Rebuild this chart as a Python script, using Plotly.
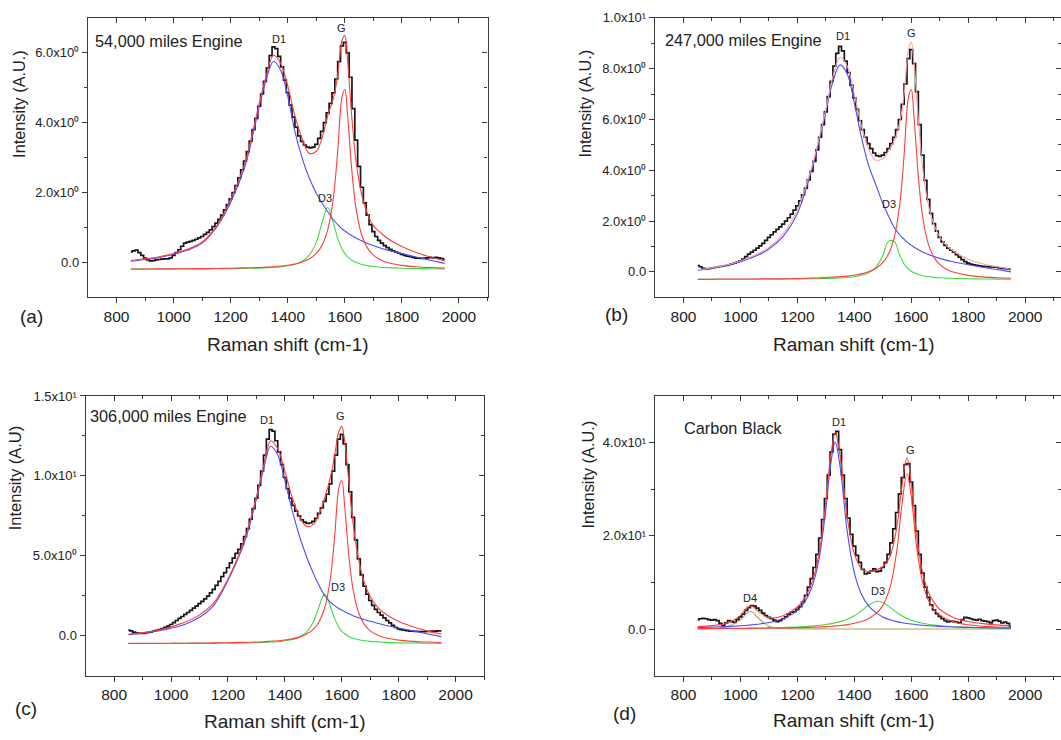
import plotly.graph_objects as go

W, H = 1061, 740
FONT = "Liberation Sans, Arial, Helvetica, sans-serif"
INK = "#222222"
AXIS = "#3a3a3a"

# ---------------- data ----------------
# measured spectra, sampled every 10 cm-1 from 850 to 1950
RAW_X = list(range(850, 1951, 10))

raw_a = [0.30, 0.33, 0.35, 0.28, 0.20, 0.12, 0.07, 0.04, 0.05, 0.07,
         0.08, 0.09, 0.10, 0.10, 0.13, 0.20, 0.28, 0.36, 0.46, 0.55,
         0.58, 0.60, 0.63, 0.66, 0.70, 0.74, 0.80, 0.86, 0.93, 1.02,
         1.12, 1.23, 1.35, 1.50, 1.65, 1.82, 2.00, 2.20, 2.42, 2.65,
         2.90, 3.17, 3.47, 3.80, 4.12, 4.47, 4.82, 5.18, 5.57, 5.92,
         6.17, 6.12, 5.90, 5.60, 5.22, 4.86, 4.50, 4.16, 3.87, 3.62,
         3.46, 3.36, 3.30, 3.28, 3.30, 3.38, 3.55, 3.75, 4.00, 4.28,
         4.55, 4.85, 5.25, 5.75, 6.20, 6.30, 6.00, 5.30, 4.40, 3.50,
         2.75, 2.15, 1.70, 1.35, 1.08, 0.88, 0.74, 0.63, 0.55, 0.48,
         0.42, 0.37, 0.33, 0.29, 0.26, 0.23, 0.20, 0.18, 0.16, 0.14,
         0.12, 0.12, 0.11, 0.12, 0.13, 0.14, 0.13, 0.14, 0.13, 0.11,
         0.08]

raw_b = [0.25, 0.20, 0.14, 0.12, 0.13, 0.15, 0.17, 0.19, 0.21, 0.23,
         0.25, 0.28, 0.31, 0.34, 0.38, 0.43, 0.50, 0.60, 0.70, 0.78,
         0.85, 0.93, 1.02, 1.12, 1.24, 1.36, 1.46, 1.57, 1.67, 1.77,
         1.88, 2.00, 2.13, 2.27, 2.43, 2.60, 2.80, 3.03, 3.30, 3.62,
         3.96, 4.35, 4.80, 5.30, 5.80, 6.30, 6.90, 7.50, 8.10, 8.60,
         8.88, 8.70, 8.30, 7.85, 7.35, 6.85, 6.40, 5.95, 5.60, 5.30,
         5.05, 4.85, 4.68, 4.58, 4.55, 4.60, 4.70, 4.85, 5.05, 5.30,
         5.60, 6.00, 6.60, 7.40, 8.40, 8.75, 8.20, 7.10, 5.80, 4.60,
         3.60, 2.85, 2.30, 1.90, 1.60, 1.36, 1.18, 1.04, 0.93, 0.85,
         0.78, 0.68, 0.58, 0.48, 0.40, 0.34, 0.30, 0.28, 0.26, 0.24,
         0.22, 0.21, 0.20, 0.19, 0.19, 0.18, 0.16, 0.14, 0.13, 0.12,
         0.10]

raw_c = [0.35, 0.30, 0.22, 0.17, 0.15, 0.15, 0.17, 0.20, 0.24, 0.28,
         0.33, 0.38, 0.45, 0.52, 0.60, 0.70, 0.82, 0.95, 1.08, 1.20,
         1.33, 1.45, 1.58, 1.72, 1.85, 2.00, 2.15, 2.30, 2.48, 2.68,
         2.90, 3.15, 3.40, 3.70, 3.95, 4.25, 4.55, 4.85, 5.15, 5.40,
         5.75, 6.20, 6.70, 7.30, 7.95, 8.60, 9.40, 10.30, 11.30, 12.30,
         12.90, 12.80, 12.20, 11.50, 10.70, 9.90, 9.20, 8.60, 8.15, 7.80,
         7.50, 7.25, 7.10, 7.03, 7.05, 7.15, 7.35, 7.65, 8.00, 8.40,
         8.85, 9.50, 10.30, 11.30, 12.30, 12.60, 12.00, 10.70, 9.00, 7.40,
         6.00, 4.80, 3.80, 3.10, 2.60, 2.20, 1.90, 1.65, 1.45, 1.28,
         1.12, 0.95, 0.80, 0.65, 0.52, 0.43, 0.38, 0.34, 0.31, 0.29,
         0.28, 0.27, 0.26, 0.25, 0.25, 0.26, 0.27, 0.28, 0.29, 0.30,
         0.30]

raw_d = [2.0, 2.2, 2.3, 2.2, 2.0, 1.9, 2.0, 1.8, 1.2, 0.8,
         1.3, 1.8, 1.6, 1.4, 2.0, 2.6, 3.2, 4.0, 4.6, 5.0,
         4.9, 4.5, 4.0, 3.4, 2.9, 2.5, 2.2, 1.9, 1.6, 1.8,
         2.2, 2.6, 3.2, 3.6, 3.7, 4.2, 4.8, 5.8, 7.2, 9.0,
         10.8, 13.2, 16.0, 19.5, 23.5, 28.0, 33.0, 38.0, 41.8, 42.4,
         38.5, 33.0, 28.0, 23.8, 20.3, 17.8, 15.8, 14.3, 12.8, 11.8,
         12.0, 12.4, 12.9, 12.3, 12.4, 13.2, 14.3, 16.0, 18.5, 21.5,
         25.0, 29.0, 32.5, 35.3, 35.5, 31.5, 26.5, 21.0, 16.0, 12.0,
         9.0, 6.8, 5.2, 4.1, 3.3, 2.7, 2.2, 1.8, 1.5, 1.7,
         1.6, 1.5, 1.3, 2.0, 2.5, 2.4, 2.2, 2.0, 1.9, 2.1,
         1.8, 1.7, 1.6, 1.3, 1.8, 1.9, 1.7, 1.3, 1.5, 1.2,
         0.6]

# fitted band curves (engine soot samples)
FIT_X = [850, 900, 950, 1000, 1050, 1100, 1150, 1200, 1250, 1275, 1300, 1325,
         1350, 1375, 1400, 1425, 1450, 1475, 1500, 1520, 1540, 1560, 1575,
         1590, 1600, 1610, 1625, 1640, 1660, 1680, 1700, 1725, 1750, 1800,
         1850, 1900, 1950]

d1_a = [0.03, 0.08, 0.14, 0.23, 0.35, 0.55, 1.0, 1.72, 2.75, 3.55, 4.45, 5.25,
        5.75, 5.5, 4.75, 3.75, 3.0, 2.42, 1.98, 1.7, 1.45, 1.22, 1.08,
        0.96, 0.9, 0.84, 0.76, 0.69, 0.61, 0.54, 0.48, 0.41, 0.35, 0.25,
        0.15, 0.06, -0.03]
d3_a = [-0.195, -0.194, -0.193, -0.19, -0.19, -0.19, -0.186, -0.18, -0.175, -0.17, -0.165, -0.155,
        -0.145, -0.13, -0.10, -0.06, 0.03, 0.20, 0.57, 1.13, 1.57, 1.13, 0.685,
        0.38, 0.25, 0.154, 0.056, -0.007, -0.062, -0.096, -0.12, -0.14, -0.153, -0.17,
        -0.178, -0.184, -0.187]
g_a = [-0.19, -0.19, -0.189, -0.187, -0.184, -0.18, -0.177, -0.17, -0.16, -0.155, -0.148, -0.138,
       -0.125, -0.107, -0.082, -0.047, 0.008, 0.096, 0.254, 0.485, 0.93, 1.86, 3.18,
       4.73, 4.95, 4.18, 2.58, 1.50, 0.76, 0.40, 0.206, 0.071, -0.007, -0.089,
       -0.128, -0.15, -0.163]
sum_a = [0.05, 0.1, 0.16, 0.25, 0.38, 0.58, 1.03, 1.8, 2.85, 3.65, 4.55, 5.35,
         5.93, 5.7, 5.05, 4.2, 3.55, 3.12, 3.18, 3.55, 4.2, 4.7, 5.35,
         6.35, 6.5, 5.75, 4.1, 2.85, 1.9, 1.38, 1.05, 0.85, 0.68, 0.45,
         0.28, 0.15, 0.04]

d1_b = [0.06, 0.14, 0.25, 0.4, 0.6, 0.9, 1.4, 2.3, 4.0, 5.1, 6.3, 7.5,
        8.15, 7.8, 6.65, 5.3, 4.2, 3.45, 2.7, 2.2, 1.75, 1.45, 1.28,
        1.13, 1.05, 0.97, 0.87, 0.78, 0.68, 0.6, 0.53, 0.45, 0.39, 0.28,
        0.18, 0.09, 0.0]
d3_b = [-0.296, -0.295, -0.294, -0.293, -0.291, -0.289, -0.286, -0.282, -0.275, -0.27, -0.263, -0.254,
        -0.241, -0.221, -0.191, -0.138, -0.04, 0.167, 0.634, 1.20, 1.20, 0.634, 0.311,
        0.111, 0.024, -0.04, -0.106, -0.151, -0.191, -0.217, -0.234, -0.249, -0.26, -0.273,
        -0.281, -0.286, -0.289]
g_b = [-0.29, -0.29, -0.28, -0.28, -0.28, -0.27, -0.27, -0.26, -0.24, -0.24, -0.22, -0.21,
       -0.19, -0.17, -0.13, -0.08, 0.0, 0.13, 0.36, 0.70, 1.34, 2.69, 4.61,
       6.86, 7.18, 6.06, 3.74, 2.17, 1.09, 0.57, 0.29, 0.09, -0.02, -0.14,
       -0.2, -0.23, -0.25]
sum_b = [0.08, 0.16, 0.27, 0.43, 0.65, 0.96, 1.5, 2.45, 4.1, 5.2, 6.4, 7.7,
         8.45, 8.1, 7.0, 5.75, 4.85, 4.4, 4.45, 4.75, 5.15, 5.9, 7.0,
         8.75, 9.05, 8.2, 6.0, 4.1, 2.65, 1.85, 1.38, 1.02, 0.8, 0.5,
         0.32, 0.2, 0.1]

d1_c = [0.06, 0.16, 0.29, 0.47, 0.72, 1.15, 1.9, 3.45, 5.45, 6.85, 8.55, 10.4,
        11.85, 11.3, 9.7, 7.9, 6.3, 5.0, 3.9, 3.15, 2.5, 2.1, 1.88,
        1.7, 1.6, 1.5, 1.37, 1.25, 1.12, 1.0, 0.9, 0.78, 0.67, 0.48,
        0.3, 0.12, -0.06]
d3_c = [-0.49, -0.49, -0.49, -0.49, -0.48, -0.48, -0.48, -0.47, -0.46, -0.45, -0.44, -0.42,
        -0.40, -0.38, -0.32, -0.26, -0.10, 0.2, 0.85, 1.83, 2.6, 1.83, 1.05,
        0.52, 0.29, 0.12, -0.05, -0.16, -0.26, -0.32, -0.36, -0.39, -0.42, -0.45,
        -0.46, -0.47, -0.48]
g_c = [-0.48, -0.48, -0.48, -0.47, -0.47, -0.46, -0.45, -0.44, -0.42, -0.41, -0.40, -0.38,
       -0.35, -0.32, -0.27, -0.2, -0.09, 0.09, 0.4, 0.86, 1.73, 3.58, 6.19,
       9.26, 9.7, 8.17, 5.0, 2.87, 1.4, 0.69, 0.3, 0.04, -0.12, -0.28,
       -0.36, -0.4, -0.43]
sum_c = [0.09, 0.19, 0.32, 0.55, 0.85, 1.3, 2.05, 3.55, 5.6, 7.0, 8.7, 10.6,
         12.2, 11.7, 10.3, 8.7, 7.5, 6.85, 6.95, 7.6, 8.6, 9.9, 11.3,
         12.8, 13.1, 12.2, 9.6, 7.0, 4.7, 3.3, 2.45, 1.8, 1.4, 0.88,
         0.56, 0.3, 0.1]

# fitted band curves (carbon black)
FIT_X_CB = [850, 900, 950, 1000, 1025, 1040, 1060, 1100, 1150, 1200, 1225, 1250,
            1275, 1300, 1315, 1333, 1350, 1375, 1400, 1425, 1450, 1480, 1500,
            1525, 1550, 1565, 1585, 1600, 1620, 1640, 1660, 1680, 1700, 1750,
            1800, 1850, 1900, 1950]

d1_d = [0.33, 0.41, 0.52, 0.69, 0.8, 0.885, 1.02, 1.38, 2.19, 3.95, 5.7, 8.8,
        14.6, 25.7, 34.4, 40.1, 34.9, 21.0, 12.1, 7.47, 4.97, 3.3, 2.6,
        2.0, 1.58, 1.39, 1.19, 1.06, 0.92, 0.81, 0.71, 0.63, 0.57, 0.44,
        0.35, 0.29, 0.24, 0.2]
g_d = [0.08, 0.092, 0.107, 0.126, 0.137, 0.145, 0.156, 0.182, 0.227, 0.289, 0.33, 0.38,
       0.44, 0.52, 0.58, 0.666, 0.764, 0.95, 1.22, 1.6, 2.21, 3.5, 5.07,
       8.81, 17.1, 25.4, 33.3, 28.4, 17.1, 10.0, 6.24, 4.18, 2.97, 1.51,
       0.91, 0.6, 0.43, 0.32]
d3_d = [0.094, 0.11, 0.131, 0.159, 0.176, 0.188, 0.205, 0.249, 0.325, 0.44, 0.52, 0.628,
        0.767, 0.955, 1.1, 1.32, 1.58, 2.11, 2.86, 3.9, 5.09, 5.94, 5.69,
        4.66, 3.5, 2.9, 2.26, 1.9, 1.51, 1.23, 1.01, 0.84, 0.71, 0.49,
        0.36, 0.27, 0.21, 0.17]
d4_d = [0.05, 0.12, 0.45, 1.9, 3.51, 3.72, 2.52, 0.6, 0.1, 0.04, 0.03, 0.02,
        0.02, 0.02, 0.01, 0.01, 0.01, 0.01, 0.01, 0.01, 0.01, 0.01, 0.01,
        0.01, 0.01, 0.01, 0.01, 0.01, 0.0, 0.0, 0.0, 0.0, 0.0, 0.0,
        0.0, 0.0, 0.0, 0.0]
sum_d = [0.55, 0.73, 1.21, 2.88, 4.62, 4.94, 3.9, 2.41, 2.84, 4.72, 6.57, 9.81,
         15.81, 27.18, 36.08, 42.09, 37.24, 24.06, 16.18, 12.97, 12.27, 12.74, 13.36,
         15.47, 22.18, 29.69, 36.75, 31.36, 19.53, 12.04, 7.96, 5.65, 4.25, 2.44,
         1.62, 1.16, 0.88, 0.69]

# axis ticks
X_MAJOR = [800, 1000, 1200, 1400, 1600, 1800, 2000]
X_MINOR = [900, 1100, 1300, 1500, 1700, 1900, 2100]

Y_MAJOR_A = [0, 2, 4, 6]
Y_TEXT_A = ["0.0", "2.0x10\u2070", "4.0x10\u2070", "6.0x10\u2070"]
Y_MINOR_A = [1, 3, 5]

Y_MAJOR_B = [0, 2, 4, 6, 8, 10]
Y_TEXT_B = ["0.0", "2.0x10\u2070", "4.0x10\u2070", "6.0x10\u2070",
            "8.0x10\u2070", "1.0x10\u00b9"]
Y_MINOR_B = [1, 3, 5, 7, 9]

Y_MAJOR_C = [0, 5, 10, 15]
Y_TEXT_C = ["0.0", "5.0x10\u2070", "1.0x10\u00b9", "1.5x10\u00b9"]
Y_MINOR_C = [2.5, 7.5, 12.5]

Y_MAJOR_D = [0, 20, 40]
Y_TEXT_D = ["0.0", "2.0x10\u00b9", "4.0x10\u00b9"]
Y_MINOR_D = [10, 30]

# ---------------- styling ----------------
C_RAW = "#161616"
C_D1 = "#4b4bff"
C_G = "#ff3d3d"
C_SUM = "#ff3d3d"
C_SUM_LIGHT = "#ff9d9d"
C_D3 = "#3fdc3f"
C_D4 = "#b3a652"


def px_x(px):
    return px / W


def px_y(py):
    return 1 - py / H


def ref(prefix, n):
    return prefix if n == 1 else f"{prefix}{n}"


def ax_key(prefix, n):
    return f"{prefix}axis" if n == 1 else f"{prefix}axis{n}"


panels = [
    dict(n=1, xdom=(88, 487.5), ydom=(11, 293), xr=(700, 2100), yr=(-1, 7),
         ymaj=Y_MAJOR_A, ytxt=Y_TEXT_A, ymin=Y_MINOR_A, right_line=True,
         raw=raw_a, fx=FIT_X,
         fits=[(d3_a, C_D3), (d1_a, C_D1), (g_a, C_G), (sum_a, C_SUM)]),
    dict(n=2, xdom=(655, 1061), ydom=(11, 293), xr=(700, 2126), yr=(-1, 10),
         ymaj=Y_MAJOR_B, ytxt=Y_TEXT_B, ymin=Y_MINOR_B, right_line=False,
         raw=raw_b, fx=FIT_X,
         fits=[(d3_b, C_D3), (d1_b, C_D1), (g_b, C_G), (sum_b, C_SUM_LIGHT)]),
    dict(n=3, xdom=(85.7, 484), ydom=(392.7, 675), xr=(700, 2100), yr=(-2.5, 15),
         ymaj=Y_MAJOR_C, ytxt=Y_TEXT_C, ymin=Y_MINOR_C, right_line=True,
         raw=raw_c, fx=FIT_X,
         fits=[(d3_c, C_D3), (d1_c, C_D1), (g_c, C_G), (sum_c, C_SUM)]),
    dict(n=4, xdom=(655, 1061), ydom=(392.7, 675), xr=(700, 2126), yr=(-10, 50),
         ymaj=Y_MAJOR_D, ytxt=Y_TEXT_D, ymin=Y_MINOR_D, right_line=False,
         raw=raw_d, fx=FIT_X_CB,
         fits=[(d4_d, C_D4), (d3_d, C_D3), (d1_d, C_D1), (g_d, C_G), (sum_d, C_SUM)]),
]

fig = go.Figure()
layout = dict(
    width=W, height=H,
    margin=dict(l=0, r=0, t=0, b=0),
    paper_bgcolor="white", plot_bgcolor="white",
    showlegend=False,
    font=dict(family=FONT, color=INK),
)

for p in panels:
    n = p["n"]
    xa, ya = ref("x", n), ref("y", n)
    xt, yr_ = ref("x", n + 4), ref("y", n + 4)

    # measured spectrum (step trace)
    fig.add_trace(go.Scatter(x=RAW_X, y=p["raw"], xaxis=xa, yaxis=ya, mode="lines",
                             line=dict(color=C_RAW, width=1.7, shape="hvh"),
                             hoverinfo="skip"))
    # fitted bands and cumulative fit
    for vals, col in p["fits"]:
        fig.add_trace(go.Scatter(x=p["fx"], y=vals, xaxis=xa, yaxis=ya, mode="lines",
                                 line=dict(color=col, width=1.1, shape="spline", smoothing=1.0),
                                 hoverinfo="skip"))
    # placeholders so the mirrored frame axes are drawn
    fig.add_trace(go.Scatter(x=[None], y=[None], xaxis=xt, yaxis=ya, hoverinfo="skip"))
    fig.add_trace(go.Scatter(x=[None], y=[None], xaxis=xa, yaxis=yr_, hoverinfo="skip"))

    xdom = [px_x(p["xdom"][0]), px_x(p["xdom"][1])]
    ydom = [px_y(p["ydom"][1]), px_y(p["ydom"][0])]

    common = dict(showgrid=False, zeroline=False, fixedrange=True,
                  linecolor=AXIS, linewidth=1.4, tickcolor=AXIS, tickwidth=1.3)

    layout[ax_key("x", n)] = dict(
        domain=xdom, range=list(p["xr"]), anchor=ya, showline=True,
        ticks="outside", ticklen=5, tickmode="array",
        tickvals=X_MAJOR, ticktext=[str(v) for v in X_MAJOR],
        tickfont=dict(size=15.5, color=INK, family=FONT),
        minor=dict(tickmode="array", tickvals=X_MINOR, ticks="outside",
                   ticklen=3, tickwidth=1.2, tickcolor=AXIS),
        **common)
    layout[ax_key("y", n)] = dict(
        domain=ydom, range=list(p["yr"]), anchor=xa, showline=True,
        ticks="outside", ticklen=5, tickmode="array",
        tickvals=p["ymaj"], ticktext=p["ytxt"],
        tickfont=dict(size=13, color=INK, family=FONT),
        minor=dict(tickmode="array", tickvals=p["ymin"], ticks="outside",
                   ticklen=3, tickwidth=1.2, tickcolor=AXIS),
        **common)
    layout[ax_key("x", n + 4)] = dict(
        overlaying=xa, anchor=ya, side="top", range=list(p["xr"]), showline=True,
        ticks="inside", ticklen=5, tickmode="array", tickvals=X_MAJOR,
        showticklabels=False,
        minor=dict(tickmode="array", tickvals=X_MINOR, ticks="inside",
                   ticklen=3, tickwidth=1.2, tickcolor=AXIS),
        **common)
    layout[ax_key("y", n + 4)] = dict(
        overlaying=ya, anchor=xa, side="right", range=list(p["yr"]),
        showline=p["right_line"],
        ticks="inside", ticklen=5, tickmode="array", tickvals=p["ymaj"],
        showticklabels=False,
        minor=dict(tickmode="array", tickvals=p["ymin"], ticks="inside",
                   ticklen=3, tickwidth=1.2, tickcolor=AXIS),
        **common)

annotations = []


def note(text, px, py, size, xanchor="center", angle=0):
    annotations.append(dict(
        text=text, x=px_x(px), y=px_y(py), xref="paper", yref="paper",
        xanchor=xanchor, yanchor="middle", showarrow=False, textangle=angle,
        font=dict(family=FONT, size=size, color=INK)))


# axis titles
for cx, cy in [(287.5, 340.7), (854.2, 340.7), (284.8, 721.7), (854.2, 720.7)]:
    note("Raman shift (cm-1)", cx, cy, 19)
note("Intensity (A.U.)", 18.3, 97.5, 16.3, angle=-90)
note("Intensity (A.U.)", 585, 97.5, 16.3, angle=-90)
note("Intensity (A.U)", 15, 475.8, 16.5, angle=-90)
note("Intensity (A.U.)", 588.3, 471.7, 16.3, angle=-90)

# panel letters
note("(a)", 31.7, 312.3, 19)
note("(b)", 616.7, 310.7, 19)
note("(c)", 25.7, 708.3, 19)
note("(d)", 624, 713.3, 19)

# sample names
note("54,000 miles Engine", 93.3, 34.3, 16.3, xanchor="left")
note("247,000 miles Engine", 662.7, 33.3, 16.3, xanchor="left")
note("306,000 miles Engine", 88.3, 413.3, 16.3, xanchor="left")
note("Carbon Black", 682.3, 425, 16.3, xanchor="left")

# band labels
for t, x, y in [("D1", 279.3, 32.3), ("G", 341.7, 20.7), ("D3", 325, 192.7),
                ("D1", 843.3, 29.3), ("G", 911.7, 26.7), ("D3", 889.3, 199.3),
                ("D1", 266.7, 416.7), ("G", 340, 412.7), ("D3", 338.3, 586),
                ("D1", 838.7, 419.3), ("G", 910, 447.7), ("D3", 878.3, 589.3),
                ("D4", 750, 596.7)]:
    note(t, x, y, 11)

layout["annotations"] = annotations
fig.update_layout(**layout)
fig.update_traces(showlegend=False)

fig.write_html("out.html")
